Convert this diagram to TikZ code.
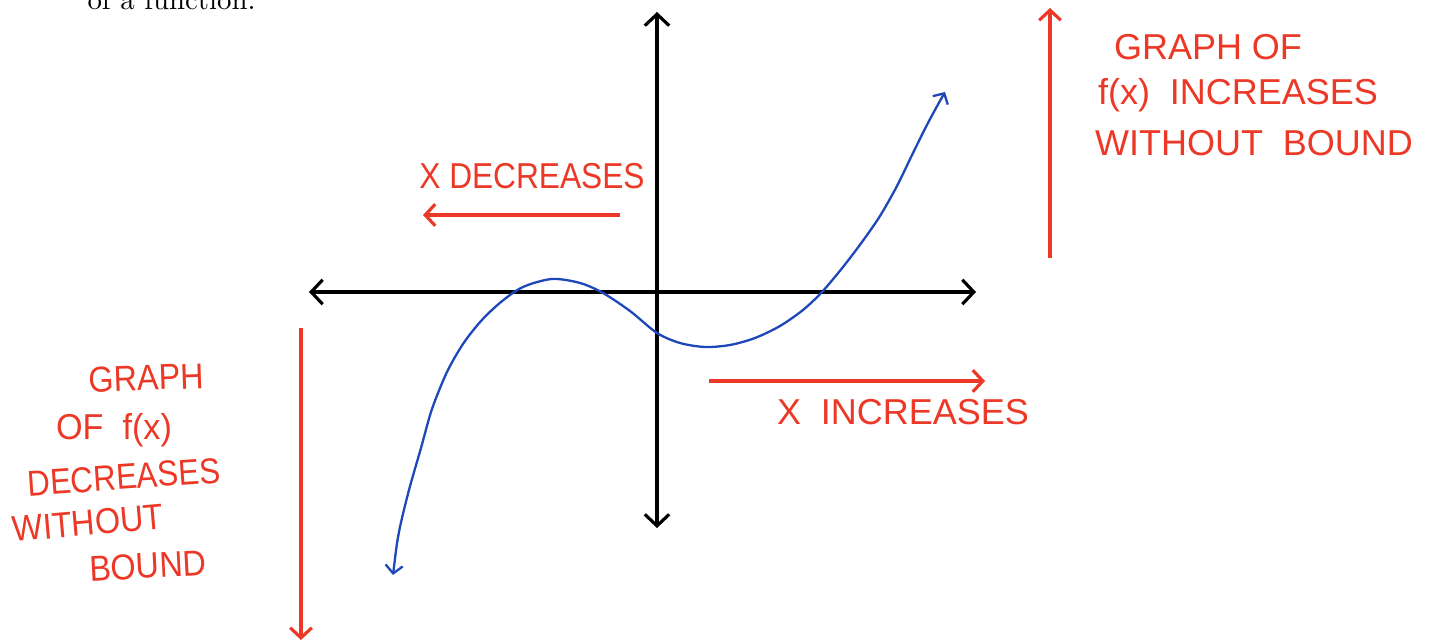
\documentclass[tikz,border=0pt]{standalone}
\usepackage{fontspec}
\usetikzlibrary{arrows.meta}
\newfontfamily\handfont{Liberation Sans}
\definecolor{penred}{RGB}{236,56,38}
\definecolor{penblue}{RGB}{30,72,185}
\newcommand{\hw}[2][1]{{\handfont\scalebox{#1}[1]{#2}}}

\begin{document}
\begin{tikzpicture}[x=0.0122cm, y=-0.0122cm,
    axis/.style={line width=1.1pt, {Straight Barb[length=4pt,width=8.5pt]}-{Straight Barb[length=4pt,width=8.5pt]}},
    redarrow/.style={penred, line width=1.1pt, -{Straight Barb[length=3.5pt,width=7.5pt]}},
    hand/.style={penred, inner sep=0pt, font=\fontsize{12.5}{15}\selectfont}]
    \useasboundingbox (0,0) rectangle (1442,643);

    % Text of the page above the picture
    \node[anchor=base west, inner sep=0pt] (pagetext) at (87,10) {of a function.};

    % Draw the axes
    \coordinate (Xleft) at (309,292);
    \coordinate (Xright) at (976,292);
    \coordinate (Ytop) at (657,12);
    \coordinate (Ybot) at (657,528);
    \draw[axis] (Xleft) -- (Xright);
    \draw[axis] (Ytop) -- (Ybot);

    % Draw the graph of f(x)
    \draw[penblue, line width=0.8pt,
          {Straight Barb[length=2.8pt,width=6pt]}-{Straight Barb[length=2.8pt,width=6pt]}]
        plot[smooth, tension=0.5] coordinates {
        (393,575) (399,532) (409,490) (421,448) (432,409) (447,372)
        (463,344) (481,321) (501,302) (523,287) (552,279) (580,283)
        (603,293) (630,311) (657,333) (680,343) (705,347) (730,345)
        (755,338) (780,326) (803,310) (822,292) (843,267) (862,242)
        (880,216) (897,186) (913,153) (929,121) (945,92)};

    % The arrows for x
    \coordinate (DecStart) at (620,215);
    \coordinate (DecEnd) at (423,215);
    \coordinate (IncStart) at (709,381);
    \coordinate (IncEnd) at (985,381);
    \draw[redarrow] (DecStart) -- (DecEnd);
    \draw[redarrow] (IncStart) -- (IncEnd);
    \node[hand] (xdec) at (532,176) {\hw[0.88]{X DECREASES}};
    \node[hand] (xinc) at (903,412) {\hw{X\ \ INCREASES}};

    % The arrows for f(x)
    \coordinate (UpStart) at (1050,258);
    \coordinate (UpEnd) at (1050,8);
    \coordinate (DownStart) at (301,328);
    \coordinate (DownEnd) at (301,640);
    \draw[redarrow] (UpStart) -- (UpEnd);
    \draw[redarrow] (DownStart) -- (DownEnd);

    % Label for f(x) going up
    \node[hand] (upa) at (1208,47) {\hw{GRAPH OF}};
    \node[hand] (upb) at (1238,95) {\hw{f(x)\ \ INCREASES}};
    \node[hand] (upc) at (1254,143) {\hw{WITHOUT\ \ BOUND}};

    % Label for f(x) going down
    \node[hand, rotate=2] (downa) at (146,378) {\hw[0.9]{GRAPH}};
    \node[hand] (downb) at (114,430) {\hw[0.95]{OF\ \ f(x)}};
    \node[hand, rotate=4] (downc) at (124,477) {\hw[0.87]{DECREASES}};
    \node[hand, rotate=5] (downd) at (88,523) {\hw[0.9]{WITHOUT}};
    \node[hand, rotate=3] (downe) at (148,566) {\hw[0.9]{BOUND}};
\end{tikzpicture}
\end{document}
